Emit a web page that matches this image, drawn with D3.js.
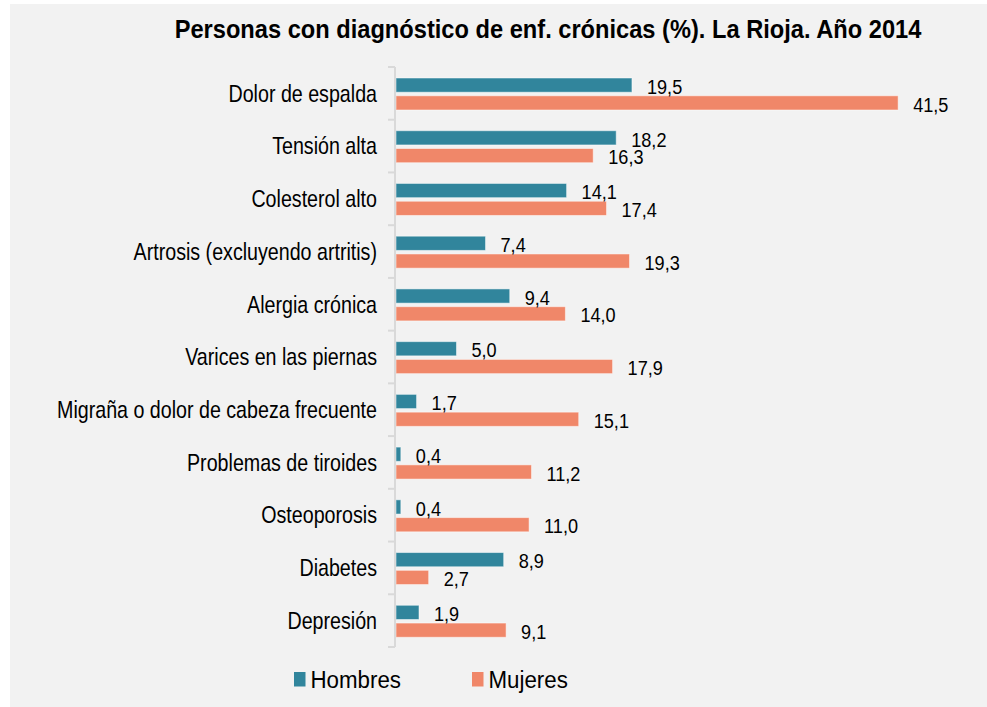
<!DOCTYPE html>
<html><head><meta charset="utf-8">
<script src="https://cdn.jsdelivr.net/npm/d3@7"></script>
<style>
body{margin:0;background:#fff;}
text{font-family:"Liberation Sans",Arial,sans-serif;fill:#000;}
</style>
</head><body>
<svg id="c" width="987" height="707"></svg>
<script>
const title = "Personas con diagnóstico de enf. crónicas (%). La Rioja. Año 2014";
const categories = ["Dolor de espalda","Tensión alta","Colesterol alto","Artrosis (excluyendo artritis)","Alergia crónica","Varices en las piernas","Migraña o dolor de cabeza frecuente","Problemas de tiroides","Osteoporosis","Diabetes","Depresión"];
const seriesNames = ["Hombres","Mujeres"];
const hombres = [19.5,18.2,14.1,7.4,9.4,5.0,1.7,0.4,0.4,8.9,1.9];
const mujeres = [41.5,16.3,17.4,19.3,14.0,17.9,15.1,11.2,11.0,2.7,9.1];
const colors = ["#31859c","#f08769"];

const svg = d3.select("#c");
svg.append("rect").attr("x",10).attr("y",4).attr("width",977).attr("height",703).attr("fill","#f2f2f2");

const y = d3.scaleBand().domain(categories).range([67,647]).padding(0);
const y1 = d3.scaleBand().domain(seriesNames).range([11,43]).paddingInner(0.2);
const x = d3.scaleLinear().domain([0,45]).range([396,940.5]);
const fmt = v => d3.format(".1f")(v).replace(".",",");
const tf = (px,py,sx) => `translate(${px},${py}) scale(${sx},1)`;

// title
svg.append("text").attr("transform",tf(548,37.5,0.946)).attr("text-anchor","middle")
  .style("font-size","25px").style("font-weight","bold").text(title);

// bars
const data = [];
categories.forEach((c,i)=>{
  data.push({c, s:"Hombres", v:hombres[i], col:colors[0]});
  data.push({c, s:"Mujeres", v:mujeres[i], col:colors[1]});
});
const g = svg.append("g");
g.selectAll("rect.bar").data(data).join("rect").attr("class","bar")
  .attr("x",x(0)).attr("y",d=>y(d.c)+y1(d.s))
  .attr("width",d=>x(d.v)-x(0)).attr("height",y1.bandwidth())
  .attr("fill",d=>d.col).attr("stroke","rgba(255,255,255,0.5)").attr("stroke-width",1);

g.selectAll("text.val").data(data).join("text").attr("class","val")
  .attr("transform",d=>tf(x(d.v)+15, y(d.c)+y1(d.s)+y1.bandwidth()/2+8.7, 0.893))
  .style("font-size","20.3px").text(d=>fmt(d.v));

// axis line and ticks
const ax = svg.append("g").attr("stroke","#d9d9d9").attr("stroke-width",2);
ax.append("line").attr("x1",395).attr("x2",395).attr("y1",y.range()[0]).attr("y2",y.range()[1]);
const bounds = categories.map(c=>y(c)).concat([y.range()[1]]);
ax.selectAll("line.t").data(bounds).join("line").attr("class","t")
  .attr("x1",388).attr("x2",395).attr("y1",d=>d).attr("y2",d=>d);

// category labels
svg.selectAll("text.cat").data(categories).join("text").attr("class","cat")
  .attr("transform",c=>tf(377, y(c)+y.bandwidth()/2+8.3, 0.819)).attr("text-anchor","end")
  .style("font-size","24px").text(c=>c);

// legend
const legX = [294,472];
const lg = svg.selectAll("g.leg").data(seriesNames).join("g").attr("class","leg")
  .attr("transform",(d,i)=>`translate(${legX[i]},672)`);
lg.append("rect").attr("width",11.5).attr("height",14.5).attr("fill",(d,i)=>colors[i]);
lg.append("text").attr("transform",tf(16.5,16.3,0.93)).style("font-size","24px").text(d=>d);
</script>
</body></html>
